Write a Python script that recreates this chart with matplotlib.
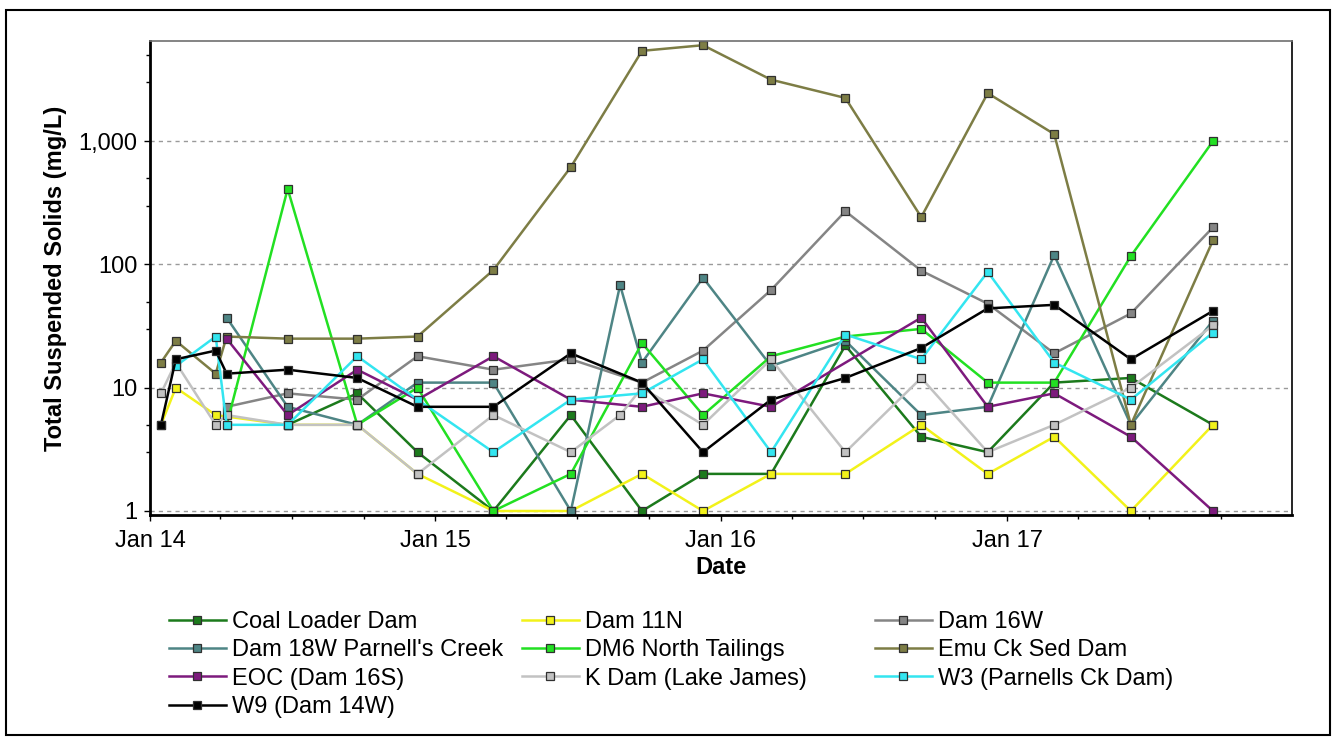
import matplotlib
matplotlib.use("Agg")
import matplotlib.pyplot as plt
import matplotlib.dates as mdates
import matplotlib.ticker as mticker
from matplotlib.patches import Rectangle
import numpy as np
import pandas as pd

plt.rcParams['font.family'] = ['Liberation Sans', 'DejaVu Sans']

# sample dates
datas = ["2014-01-15", "2014-02-03", "2014-03-26", "2014-04-09", "2014-06-26",
         "2014-09-23", "2014-12-09", "2015-03-16", "2015-06-23", "2015-08-25",
         "2015-09-22", "2015-12-09", "2016-03-05", "2016-06-08", "2016-09-13",
         "2016-12-07", "2017-03-02", "2017-06-08", "2017-09-21"]

# TSS (mg/L) per site, None = not sampled
coal_loader = [None, None, None, None, 5, 9, 3, 1, 6, None, 1, 2, 2, 22, 4, 3, 11, 12, 5]
dam_11n = [5, 10, 6, None, 5, 5, 2, 1, 1, None, 2, 1, 2, 2, 5, 2, 4, 1, 5]
dam_16w = [None, None, None, 7, 9, 8, 18, 14, 17, None, 11, 20, 62, 270, 89, 48, 19, 40, 200]
dam_18w = [None, None, None, 37, 7, 5, 11, 11, 1, 68, 16, 78, 15, 24, 6, 7, 119, 5, 35]
dm6 = [None, None, None, 5, 410, 5, 10, 1, 2, None, 23, 6, 18, 26, 30, 11, 11, 117, 1000]
emu = [16, 24, 13, 26, 25, 25, 26, 90, 616, None, 5400, 6000, 3150, 2240, 242, 2450, 1140, 5, 157]
eoc = [None, None, None, 25, 6, 14, 8, 18, 8, None, 7, 9, 7, None, 37, 7, 9, 4, 1]
k_dam = [9, 16, 5, 6, 5, 5, 2, 6, 3, 6, 10, 5, 17, 3, 12, 3, 5, 10, 32]
w3 = [None, 15, 26, 5, 5, 18, 8, 3, 8, None, 9, 17, 3, 27, 17, 87, 16, 8, 28]
w9 = [5, 17, 20, 13, 14, 12, 7, 7, 19, None, 11, 3, 8, 12, 21, 44, 47, 17, 42]

nomes = ["Coal Loader Dam", "Dam 11N", "Dam 16W", "Dam 18W Parnell's Creek",
         "DM6 North Tailings", "Emu Ck Sed Dam", "EOC (Dam 16S)",
         "K Dam (Lake James)", "W3 (Parnells Ck Dam)", "W9 (Dam 14W)"]
series = [coal_loader, dam_11n, dam_16w, dam_18w, dm6, emu, eoc, k_dam, w3, w9]
cores = ["#1c7a1c", "#f2f21a", "#858585", "#4e8585", "#22e022",
         "#7d7d45", "#7d1a7d", "#c2c2c2", "#33e5f0", "#000000"]

x = pd.to_datetime(datas)

fig = plt.figure(figsize=(13.37, 7.40), dpi=100)
ax = fig.add_axes([150 / 1337, 1 - 515 / 740, 1142 / 1337, 474 / 740])

handles = []
for nome, vals, cor in zip(nomes, series, cores):
    v = np.array([np.nan if a is None else a for a in vals], dtype=float)
    ok = ~np.isnan(v)
    h, = ax.plot(x[ok], v[ok], color=cor, lw=1.8, marker="s", markersize=5.5,
                 markerfacecolor=cor, markeredgecolor="#303030", markeredgewidth=0.9,
                 label=nome)
    handles.append(h)

ax.set_yscale("log")
ax.set_ylim(0.928, 6490)
ax.set_xlim(pd.Timestamp("2014-01-01"), pd.Timestamp("2017-12-31"))

ax.yaxis.set_major_locator(mticker.FixedLocator([1, 10, 100, 1000]))
ax.yaxis.set_major_formatter(mticker.FuncFormatter(lambda v, p: f"{v:,.0f}"))
ax.yaxis.set_minor_locator(mticker.LogLocator(base=10, subs=(3, 5)))
ax.yaxis.set_minor_formatter(mticker.NullFormatter())

ax.xaxis.set_major_locator(mdates.YearLocator())
ax.xaxis.set_major_formatter(mdates.DateFormatter("Jan %y"))
ax.xaxis.set_minor_locator(mdates.MonthLocator(bymonth=[4, 7, 10]))

ax.tick_params(axis="both", which="major", labelsize=17, length=4, width=1, pad=5)
ax.tick_params(axis="both", which="minor", length=3, width=1)
ax.tick_params(axis="x", which="major", pad=7)

ax.grid(axis="y", which="major", linestyle=(0, (3, 3)), color="#9a9a9a", lw=1)
ax.set_axisbelow(True)

ax.spines["left"].set_linewidth(2)
ax.spines["bottom"].set_linewidth(2)
ax.spines["top"].set_linewidth(1.2)
ax.spines["top"].set_color("#707070")
ax.spines["right"].set_linewidth(1.2)

ax.set_ylabel("Total Suspended Solids (mg/L)", fontsize=17, fontweight="bold", labelpad=8)
ax.set_xlabel("Date", fontsize=17, fontweight="bold", labelpad=3)

# legend in 3 columns (row-major as in original)
colunas = [[0, 3, 6, 9], [1, 4, 7], [2, 5, 8]]
xs = [169, 522, 875]
for col, x0 in zip(colunas, xs):
    leg = fig.legend([handles[i] for i in col], [nomes[i] for i in col],
                     loc="upper left", bbox_to_anchor=(x0 / 1337, 1 - 611 / 740),
                     frameon=False, fontsize=17, handlelength=2.4,
                     handletextpad=0.25, labelspacing=0.27, borderpad=0,
                     borderaxespad=0)

fig.patches.append(Rectangle((6 / 1337, 5 / 740), 1324 / 1337, 725 / 740,
                             transform=fig.transFigure, fill=False,
                             edgecolor="black", lw=1.5))

fig.savefig("out.png", dpi=100)
